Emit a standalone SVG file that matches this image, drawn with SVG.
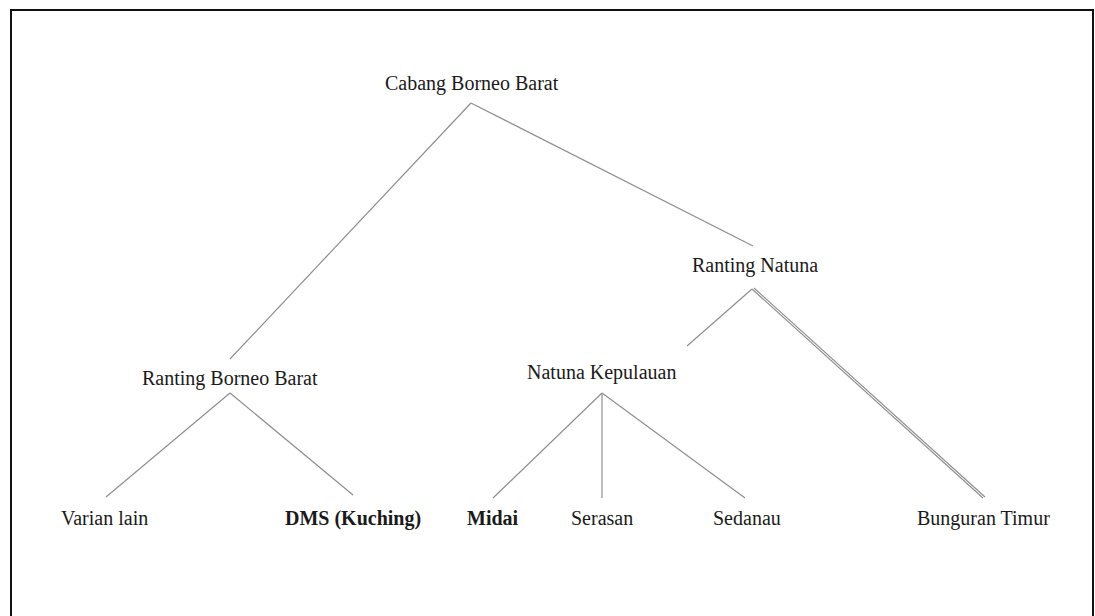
<svg xmlns="http://www.w3.org/2000/svg" width="1095" height="616" viewBox="0 0 1095 616">
<style>
.t{font-family:"Liberation Serif","Times New Roman",serif;font-size:20px;fill:#1a1a1a}
.b{font-weight:bold}
.c line{stroke:#8f8f8f;stroke-width:1.2;fill:none}
</style>
<rect x="0" y="0" width="1095" height="616" fill="#ffffff"/>
<path d="M11,616 V10 H1093 V616" fill="none" stroke="#111" stroke-width="2"/>
<g class="c" id="connectors">
<line x1="471" y1="103" x2="230" y2="359"/>
<line x1="471" y1="103" x2="753" y2="246"/>
<line x1="752" y1="289" x2="687" y2="346"/>
<line x1="752" y1="289" x2="983" y2="498"/>
<line x1="754" y1="288" x2="985" y2="497"/>
<line x1="230" y1="393" x2="106" y2="497"/>
<line x1="230" y1="393" x2="353" y2="495"/>
<line x1="602" y1="393" x2="493" y2="498"/>
<line x1="602" y1="393" x2="602" y2="498"/>
<line x1="602" y1="393" x2="745" y2="498"/>
</g>
<g id="n-cabang"><text class="t" x="385" y="90">Cabang Borneo Barat</text></g>
<g id="n-ranting-natuna"><text class="t" x="692" y="272">Ranting Natuna</text></g>
<g id="n-ranting-borneo"><text class="t" x="142" y="385">Ranting Borneo Barat</text></g>
<g id="n-natuna-kep"><text class="t" x="527" y="379">Natuna Kepulauan</text></g>
<g id="n-varian"><text class="t" x="61" y="525">Varian lain</text></g>
<g id="n-dms"><text class="t b" x="285" y="525">DMS (Kuching)</text></g>
<g id="n-midai"><text class="t b" x="467" y="525">Midai</text></g>
<g id="n-serasan"><text class="t" x="571" y="525">Serasan</text></g>
<g id="n-sedanau"><text class="t" x="713" y="525">Sedanau</text></g>
<g id="n-bunguran"><text class="t" x="917" y="525">Bunguran Timur</text></g>
</svg>
